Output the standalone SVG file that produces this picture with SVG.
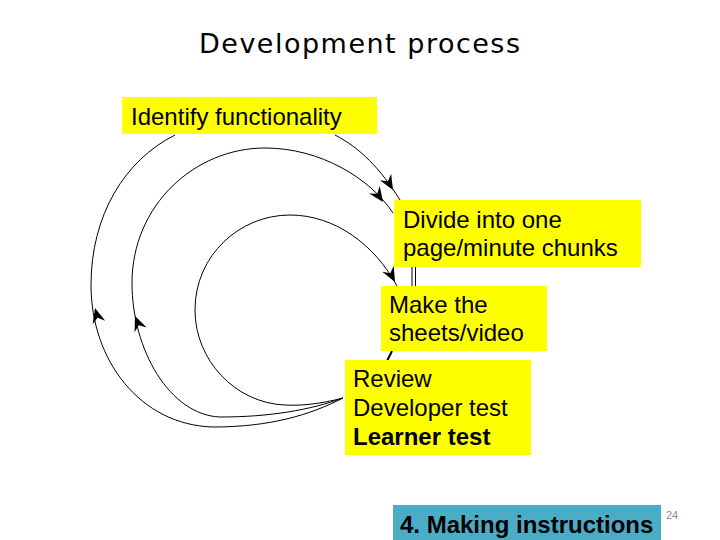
<svg xmlns="http://www.w3.org/2000/svg" width="720" height="540" viewBox="0 0 720 540">
<style>
.box{fill:#FFFF00;}
.lbl{font-family:"Liberation Sans",Arial,sans-serif;font-size:24px;fill:#000;}
.b{font-weight:bold;}
.ln{fill:none;stroke:#000;stroke-width:1;}
</style>
<defs>
<path id="ah" d="M0,0 L-15,-6.5 L-10,0 L-15,6.5 Z" fill="#000"/>
</defs>
<rect width="720" height="540" fill="#FFFFFF"/>
<text x="199" y="53" font-family="'DejaVu Sans',sans-serif" font-size="27" textLength="321" lengthAdjust="spacing" fill="#000">Development process</text>
<g id="connectors">
<path class="ln" d="M343,398 C310,415 270,427 213,427 C140,425 91,360 91,285 C91,215 125,160 175,135"/>
<path class="ln" d="M343,398 C310,410 270,417 220,417 C170,415 132,350 132,283 C132,205 195,148 265,148 C320,148 370,178 393,213"/>
<path class="ln" d="M343,398 C320,404 300,406 285,405 C235,403 195,360 195,310 C195,255 240,215 290,215 C335,215 375,245 397,286"/>
<path class="ln" d="M335,135 C360,148 380,168 400,200"/>
<line class="ln" x1="412" y1="267" x2="412" y2="286"/>
<line class="ln" x1="415.5" y1="267" x2="415.5" y2="286"/>
<line x1="392" y1="351" x2="387" y2="361" stroke="#000" stroke-width="2"/>
<use href="#ah" transform="translate(95,308) rotate(-105)"/>
<use href="#ah" transform="translate(135,316) rotate(-112)"/>
<use href="#ah" transform="translate(393,190) rotate(60)"/>
<use href="#ah" transform="translate(383,202) rotate(55)"/>
<use href="#ah" transform="translate(395,282) rotate(62)"/>
</g>
<g id="identify">
<rect class="box" x="122" y="97" width="255" height="37"/>
<text class="lbl" x="131" y="125">Identify functionality</text>
</g>
<g id="divide">
<rect class="box" x="394" y="200" width="247" height="67"/>
<text class="lbl" x="403" y="228">Divide into one</text>
<text class="lbl" x="403" y="256">page/minute chunks</text>
</g>
<g id="make">
<rect class="box" x="381" y="286" width="166" height="65"/>
<text class="lbl" x="389" y="313">Make the</text>
<text class="lbl" x="389" y="341">sheets/video</text>
</g>
<g id="review">
<rect class="box" x="345" y="360" width="186" height="95"/>
<text class="lbl" x="353" y="387">Review</text>
<text class="lbl" x="353" y="416">Developer test</text>
<text class="lbl b" x="353" y="445">Learner test</text>
</g>
<g id="footer">
<rect x="393" y="505" width="268" height="35" fill="#4BACC6"/>
<text class="lbl b" x="400" y="533">4. Making instructions</text>
</g>
<text x="666" y="519" font-family="'Liberation Sans',Arial,sans-serif" font-size="11" fill="#8C8C8C">24</text>
</svg>
